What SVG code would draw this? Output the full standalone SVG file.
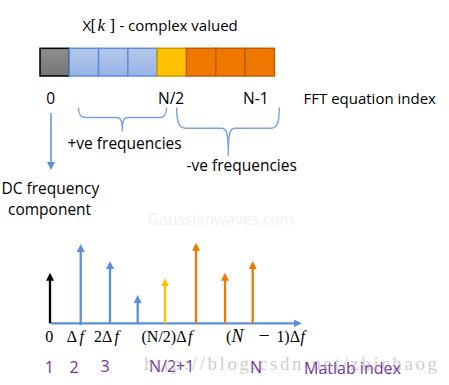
<svg xmlns="http://www.w3.org/2000/svg" width="449" height="385" viewBox="0 0 449 385">
<defs>
<linearGradient id="gGray" x1="0" y1="0" x2="0" y2="1"><stop offset="0" stop-color="#8e8e8e"/><stop offset="1" stop-color="#767676"/></linearGradient>
<linearGradient id="gBlue" x1="0" y1="0" x2="0" y2="1"><stop offset="0" stop-color="#b5c8eb"/><stop offset="1" stop-color="#97b3e6"/></linearGradient>
<marker id="mBlack" viewBox="0 0 8 8" refX="2" refY="4" markerWidth="8" markerHeight="8" markerUnits="userSpaceOnUse" orient="auto"><path d="M0,0 L8,4 L0,8 z" fill="#000"/></marker>
<marker id="mBlue" viewBox="0 0 8 8" refX="2" refY="4" markerWidth="8" markerHeight="8" markerUnits="userSpaceOnUse" orient="auto"><path d="M0,0 L8,4 L0,8 z" fill="#5b8fd9"/></marker>
<marker id="mYellow" viewBox="0 0 8 8" refX="2" refY="4" markerWidth="8" markerHeight="8" markerUnits="userSpaceOnUse" orient="auto"><path d="M0,0 L8,4 L0,8 z" fill="#ffc000"/></marker>
<marker id="mOrange" viewBox="0 0 8 8" refX="2" refY="4" markerWidth="8" markerHeight="8" markerUnits="userSpaceOnUse" orient="auto"><path d="M0,0 L8,4 L0,8 z" fill="#f07800"/></marker>
</defs>
<style>
.t{font-family:"Open Sans","Noto Sans","DejaVu Sans",sans-serif;font-size:15.5px;fill:#000}
.m{font-family:"Liberation Serif","DejaVu Serif",serif;font-size:16px;fill:#000}
.i{font-style:italic}
.p{font-family:"Open Sans","Noto Sans","DejaVu Sans",sans-serif;font-size:16px;fill:#7030a0}
.gray{fill:url(#gGray);stroke:#000;stroke-width:1.5}
.blue{fill:url(#gBlue);stroke:#5b8fd9;stroke-width:1.5}
.yel{fill:#ffc000;stroke:#c99a00;stroke-width:1.5}
.org{fill:#f07800;stroke:#bf5e00;stroke-width:1.5}
.brace{fill:none;stroke:#7aa2e2;stroke-width:1.4}
.stem{stroke-width:2.3;fill:none}
.sb{stroke:#5b8fd9}
.sk{stroke:#000}
.sy{stroke:#ffc000}
.so{stroke:#f07800}
</style>
<rect width="449" height="385" fill="#fff"/>
<text x="148" y="225" style="font-family:'Open Sans',sans-serif;font-size:15.5px;fill:#f1f1f1">Gaussianwaves.com</text>
<g id="title"><text class="t" y="30.7" style="font-size:15px"><tspan x="82.5">X</tspan><tspan x="90.5" class="m" style="font-size:17px">[</tspan><tspan x="97.5" class="m i" style="font-size:17px">k</tspan><tspan x="109.5" class="m" style="font-size:17px">]</tspan><tspan x="115.5"> - complex valued</tspan></text></g>
<g id="array">
<rect class="gray" x="40" y="48.3" width="29.3" height="27.7"/>
<rect class="blue" x="69.3" y="48.3" width="29.3" height="27.7"/>
<rect class="blue" x="98.6" y="48.3" width="29.3" height="27.7"/>
<rect class="blue" x="127.9" y="48.3" width="29.3" height="27.7"/>
<rect class="yel" x="157.2" y="48.3" width="29.3" height="27.7"/>
<rect class="org" x="186.5" y="48.3" width="29.3" height="27.7"/>
<rect class="org" x="215.8" y="48.3" width="29.3" height="27.7"/>
<rect class="org" x="245.1" y="48.3" width="29.3" height="27.7"/>
</g>
<g id="index-labels">
<text class="t" x="50.7" y="104.3" text-anchor="middle">0</text>
<text class="t" x="158" y="104.3">N/2</text>
<text class="t" x="243" y="104.3">N-1</text>
<text class="t" x="303.5" y="104.3" style="font-size:15px">FFT equation index</text>
</g>
<g id="pos-brace">
<path class="brace" d="M78.5,107.5 C78.5,114 80,117.5 86,117.5 L116,117.5 C120.5,117.5 122.3,119 122.3,131.5 C122.3,119 124,117.5 128.5,117.5 L159.5,117.5 C165,117.5 166.5,114 166.5,107.5"/>
<text class="t" x="67.5" y="149.3">+ve frequencies</text>
</g>
<g id="neg-brace">
<path class="brace" d="M176.7,107.5 C176.7,122 178.5,128.3 186,128.3 L221,128.3 C226.5,128.3 228.3,131 228.3,155.7 C228.3,131 230,128.3 235.5,128.3 L271,128.3 C277.5,128.3 279.3,122 279.3,107.5"/>
<text class="t" x="186.5" y="171">-ve frequencies</text>
</g>
<g id="dc">
<line x1="51" y1="113" x2="51" y2="164" stroke="#5b8fd9" stroke-width="1.5" marker-end="url(#mBlue)"/>
<text class="t" x="1.5" y="194">DC frequency</text>
<text class="t" x="8" y="215">component</text>
</g>
<g id="connectors">
<line class="stem sb" x1="50.7" y1="323.3" x2="295.7" y2="323.3" stroke-width="2" marker-end="url(#mBlue)"/>
<line class="stem sk" x1="50" y1="323.3" x2="50" y2="278.7" marker-end="url(#mBlack)"/>
<line class="stem sb" x1="80.7" y1="325" x2="80.7" y2="250" marker-end="url(#mBlue)"/>
<line class="stem sb" x1="110" y1="323.3" x2="110" y2="267" marker-end="url(#mBlue)"/>
<line class="stem sb" x1="137.7" y1="323.3" x2="137.7" y2="301" marker-end="url(#mBlue)"/>
<line class="stem sy" x1="165" y1="323.3" x2="165" y2="284.3" marker-end="url(#mYellow)"/>
<line class="stem so" x1="196" y1="323.3" x2="196" y2="248.7" marker-end="url(#mOrange)"/>
<line class="stem so" x1="225" y1="323.3" x2="225" y2="278.7" marker-end="url(#mOrange)"/>
<line class="stem so" x1="252.7" y1="323.3" x2="252.7" y2="267" marker-end="url(#mOrange)"/>
</g>
<g id="freq-labels">
<text class="m" x="49.3" y="341.7" text-anchor="middle">0</text>
<text class="m" y="341.7"><tspan x="66.7">Δ</tspan><tspan x="79.5" class="i">f</tspan></text>
<text class="m" y="341.7"><tspan x="94">2Δ</tspan><tspan x="114.5" class="i">f</tspan></text>
<text class="m" y="341.7"><tspan x="141.5">(N/2)Δ</tspan><tspan x="188" class="i">f</tspan></text>
<text class="m" y="341.7"><tspan x="226">(</tspan><tspan x="231.5" class="i" style="font-size:18px">N</tspan><tspan x="258.5" style="font-size:20px">−</tspan><tspan x="276.5">1</tspan><tspan x="284.3">)</tspan><tspan x="289.8">Δ</tspan><tspan x="300.5" class="i">f</tspan></text>
</g>
<g id="matlab-labels">
<text class="p" x="49.3" y="373.3" text-anchor="middle">1</text>
<text class="p" x="74" y="373.3" text-anchor="middle">2</text>
<text class="p" x="105" y="371.7" text-anchor="middle">3</text>
<text class="p" x="149" y="371.7">N/2+1</text>
<text class="p" x="256" y="373.3" text-anchor="middle">N</text>
<text class="p" x="304" y="374">Matlab index</text>
</g>
<text x="144" y="370" textLength="293" lengthAdjust="spacing" style="font-family:'Liberation Serif',serif;font-size:19px;fill:#a8a8a8;opacity:0.55">http://blog.csdn.net/zhichaog</text>
</svg>
